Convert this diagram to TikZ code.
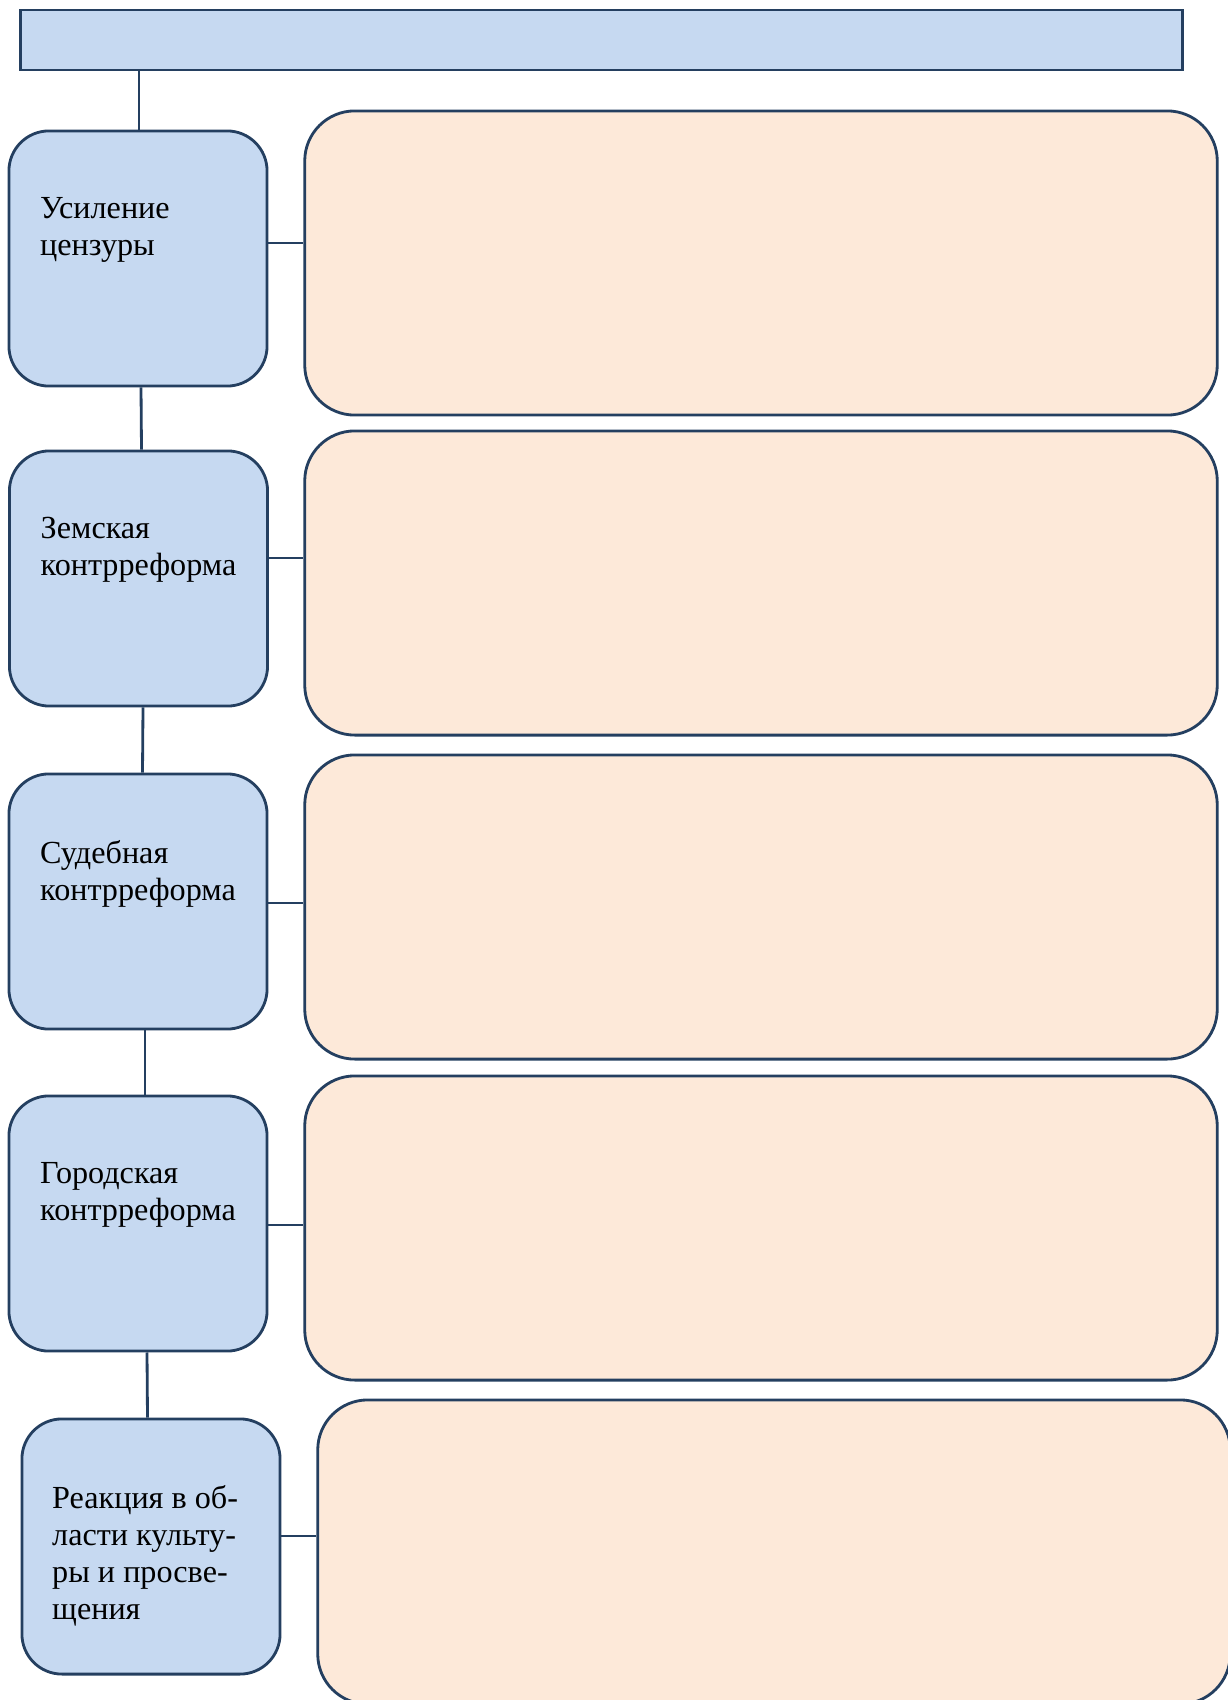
\documentclass[tikz,border=0pt]{standalone}
\usepackage{fontspec}
\setmainfont{Liberation Serif}
\usetikzlibrary{positioning}
\definecolor{boxblue}{HTML}{C6D9F1}
\definecolor{boxpeach}{HTML}{FDE9D9}
\definecolor{edgeblue}{HTML}{243F60}

\begin{document}
\begin{tikzpicture}[x=0.01cm,y=-0.01cm,
    headbox/.style={rectangle,draw=edgeblue,fill=boxblue,line width=0.8pt,minimum width=11.61cm,minimum height=0.6cm,inner sep=0pt},
    topic/.style={rectangle,rounded corners=0.4cm,draw=edgeblue,fill=boxblue,line width=0.8pt,minimum width=2.58cm,minimum height=2.55cm,inner sep=0pt},
    answer/.style={rectangle,rounded corners=0.5cm,draw=edgeblue,fill=boxpeach,line width=0.8pt,minimum width=9.12cm,minimum height=3.04cm,inner sep=0pt},
    topictext/.style={anchor=north west,inner sep=0pt,align=left,font=\fontsize{9.15}{10.55}\selectfont},
    link/.style={draw=edgeblue,line width=0.8pt}]
    \useasboundingbox (0,0) rectangle (1228,1700);
    \node[headbox] (head) at (601.5,40) {};
    % topics on the left
    \node[topic] (l1) at (138,258.5) {};
    \node[topic] (l2) at (138.5,578.5) {};
    \node[topic] (l3) at (138,901.5) {};
    \node[topic] (l4) at (138,1223.5) {};
    \node[topic] (l5) at (151,1546.5) {};
    \node[topictext] (t1) at ([xshift=0.32cm,yshift=-0.67cm]l1.north west) {Усиление\\цензуры};
    \node[topictext] (t2) at ([xshift=0.32cm,yshift=-0.67cm]l2.north west) {Земская\\контрреформа};
    \node[topictext] (t3) at ([xshift=0.32cm,yshift=-0.67cm]l3.north west) {Судебная\\контрреформа};
    \node[topictext] (t4) at ([xshift=0.32cm,yshift=-0.67cm]l4.north west) {Городская\\контрреформа};
    \node[topictext] (t5) at ([xshift=0.31cm,yshift=-0.67cm]l5.north west) {Реакция в об-\\ласти культу-\\ры и просве-\\щения};
    % empty boxes on the right
    \node[answer] (r1) at (761,263) {};
    \node[answer] (r2) at (761,583) {};
    \node[answer] (r3) at (761,907) {};
    \node[answer] (r4) at (761,1228) {};
    \node[answer] (r5) at (774,1552) {};
    % spine
    \draw[link] (head.south -| 139,0) -- ([xshift=0.01cm]l1.north);
    \draw[link] ([xshift=0.03cm]l1.south) -- ([xshift=0.03cm]l2.north);
    \draw[link] ([xshift=0.045cm]l2.south) -- ([xshift=0.045cm]l3.north);
    \draw[link] ([xshift=0.07cm]l3.south) -- ([xshift=0.07cm]l4.north);
    \draw[link] ([xshift=0.09cm]l4.south) -- ([xshift=-0.035cm]l5.north);
    % branches
    \draw[link] ([yshift=0.155cm]l1.east) -- ([yshift=0.155cm]l1.east -| r1.west);
    \draw[link] ([yshift=0.205cm]l2.east) -- ([yshift=0.205cm]l2.east -| r2.west);
    \draw[link] ([yshift=-0.015cm]l3.east) -- ([yshift=-0.015cm]l3.east -| r3.west);
    \draw[link] ([yshift=-0.015cm]l4.east) -- ([yshift=-0.015cm]l4.east -| r4.west);
    \draw[link] ([yshift=0.105cm]l5.east) -- ([yshift=0.105cm]l5.east -| r5.west);
\end{tikzpicture}
\end{document}
